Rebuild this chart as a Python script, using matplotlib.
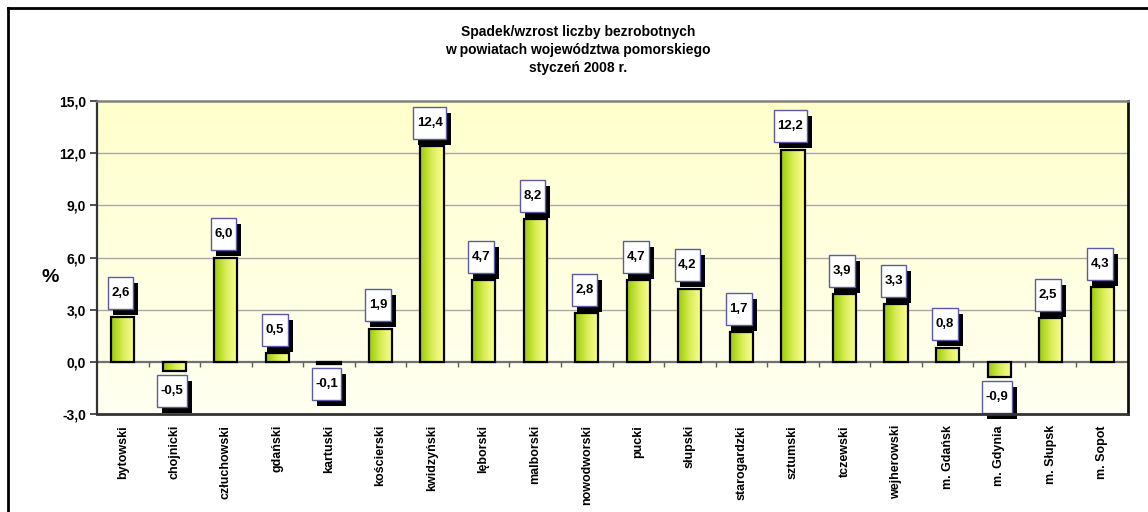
import numpy as np
import matplotlib
matplotlib.use("Agg")
import matplotlib.pyplot as plt
import matplotlib.transforms as mtransforms
from matplotlib.patches import Rectangle
from matplotlib.lines import Line2D
from matplotlib.colors import LinearSegmentedColormap

# ---- data ----
categories = ["bytowski", "chojnicki", "człuchowski", "gdański", "kartuski",
              "kościerski", "kwidzyński", "lęborski", "malborski", "nowodworski",
              "pucki", "słupski", "starogardzki", "sztumski", "tczewski",
              "wejherowski", "m. Gdańsk", "m. Gdynia", "m. Słupsk", "m. Sopot"]
values = [2.6, -0.5, 6.0, 0.5, -0.1, 1.9, 12.4, 4.7, 8.2, 2.8,
          4.7, 4.2, 1.7, 12.2, 3.9, 3.3, 0.8, -0.9, 2.5, 4.3]
yticks = [-3.0, 0.0, 3.0, 6.0, 9.0, 12.0, 15.0]
title = "Spadek/wzrost liczby bezrobotnych\nw powiatach województwa pomorskiego\nstyczeń 2008 r."

plt.rcParams['font.family'] = ['Liberation Sans', 'DejaVu Sans']

W, H = 1148, 512
fig = plt.figure(figsize=(W / 100, H / 100), dpi=100)
fig.patch.set_facecolor("white")
ax = fig.add_axes([97 / W, 1 - 414 / H, (1128 - 97) / W, (414 - 101) / H])

n = len(categories)
x = np.arange(n)
xlim = (-0.5, n - 0.5)
ylim = (yticks[0], yticks[-1])

# plot background gradient
bg_cmap = LinearSegmentedColormap.from_list("bg", ["#fffff2", "#ffffcc"])
bg = np.linspace(0, 1, 256).reshape(-1, 1)
ax.imshow(bg, extent=[xlim[0], xlim[1], ylim[0], ylim[1]], origin="lower",
          aspect="auto", cmap=bg_cmap, zorder=0)

# grid
for yt in yticks[1:-1]:
    if yt != 0:
        ax.axhline(yt, color="#a8a8a8", lw=1.0, zorder=1)
ax.axhline(0, color="#707070", lw=1.6, zorder=2.5)

# bars with horizontal gradient
bar_cmap = LinearSegmentedColormap.from_list("bar", ["#99cc00", "#d9ec5a", "#ffff99"])
grad = np.linspace(0, 1, 256).reshape(1, -1)
bw = 0.45
bars = ax.bar(x, values, width=bw, facecolor="none", edgecolor="black",
              linewidth=1.6, zorder=3)
for b in bars:
    x0, y0 = b.get_x(), b.get_y()
    w, h = b.get_width(), b.get_height()
    im = ax.imshow(grad, extent=[x0, x0 + w, min(y0, y0 + h), max(y0, y0 + h)],
                   aspect="auto", cmap=bar_cmap, zorder=2.8)
    im.set_clip_path(b)

# small ticks at category boundaries on the zero line
bnd = np.arange(n - 1) + 0.5
ax.plot(bnd, np.zeros_like(bnd), ls="none", marker=3, markersize=3.5,
        markeredgewidth=1.0, color="#606060", zorder=2.6)

ax.set_xlim(*xlim)
ax.set_ylim(*ylim)

# data labels with shadowed boxes
renderer = fig.canvas.get_renderer()
box_h = 32
for xi, v in zip(x, values):
    lab = f"{v:.1f}".replace(".", ",")
    cx = -2.5
    if v >= 0:
        cy = 7.5 + box_h / 2
    else:
        cy = -(4 + box_h / 2)
    t = ax.annotate(lab, xy=(xi, v), xytext=(cx, cy), textcoords="offset pixels",
                    ha="center", va="center", fontsize=9.5, fontweight="bold",
                    color="black", zorder=7, annotation_clip=False)
    tw = t.get_window_extent(renderer).width
    bwid = tw + 7
    tr = mtransforms.Affine2D() + mtransforms.ScaledTranslation(xi, v, ax.transData)
    shadow = Rectangle((cx - bwid / 2 + 5, cy - box_h / 2 - 6), bwid, box_h,
                       transform=tr, facecolor="black", edgecolor="black",
                       lw=0, zorder=5, clip_on=False)
    box = Rectangle((cx - bwid / 2, cy - box_h / 2), bwid, box_h,
                    transform=tr, facecolor="white", edgecolor="#5a5aa8",
                    lw=1.0, zorder=6, clip_on=False)
    ax.add_patch(shadow)
    ax.add_patch(box)

# axes styling
ax.set_yticks(yticks)
ax.set_yticklabels([f"{v:.1f}".replace(".", ",") for v in yticks],
                   fontsize=10, fontweight="bold")
ax.set_xticks(x)
ax.set_xticklabels(categories, rotation=90, fontsize=9, fontweight="bold")
ax.tick_params(axis="x", length=0, pad=8)
ax.tick_params(axis="y", length=5, width=1.2, direction="out", pad=3, color="#333333")
ax.spines["left"].set_color("#333333")
ax.spines["left"].set_linewidth(1.6)
ax.spines["bottom"].set_color("#333333")
ax.spines["bottom"].set_linewidth(2.0)
ax.spines["top"].set_color("#808080")
ax.spines["top"].set_linewidth(1.8)
ax.spines["right"].set_color("#111111")
ax.spines["right"].set_linewidth(2.0)
for s in ax.spines.values():
    s.set_zorder(8)

# y label
fig.text(50 / W, 1 - 278 / H, "%", fontsize=14, fontweight="bold",
         ha="center", va="center")

# title
fig.text(578 / W, 1 - 50 / H, title, fontsize=10, fontweight="bold",
         ha="center", va="center", linespacing=1.35)

# outer border (top and left visible)
fig.add_artist(Line2D([8 / W, 1.0], [1 - 8 / H, 1 - 8 / H], transform=fig.transFigure,
                      color="black", lw=2))
fig.add_artist(Line2D([8 / W, 8 / W], [0.0, 1 - 8 / H], transform=fig.transFigure,
                      color="black", lw=2))

fig.savefig("out.png", dpi=100)
